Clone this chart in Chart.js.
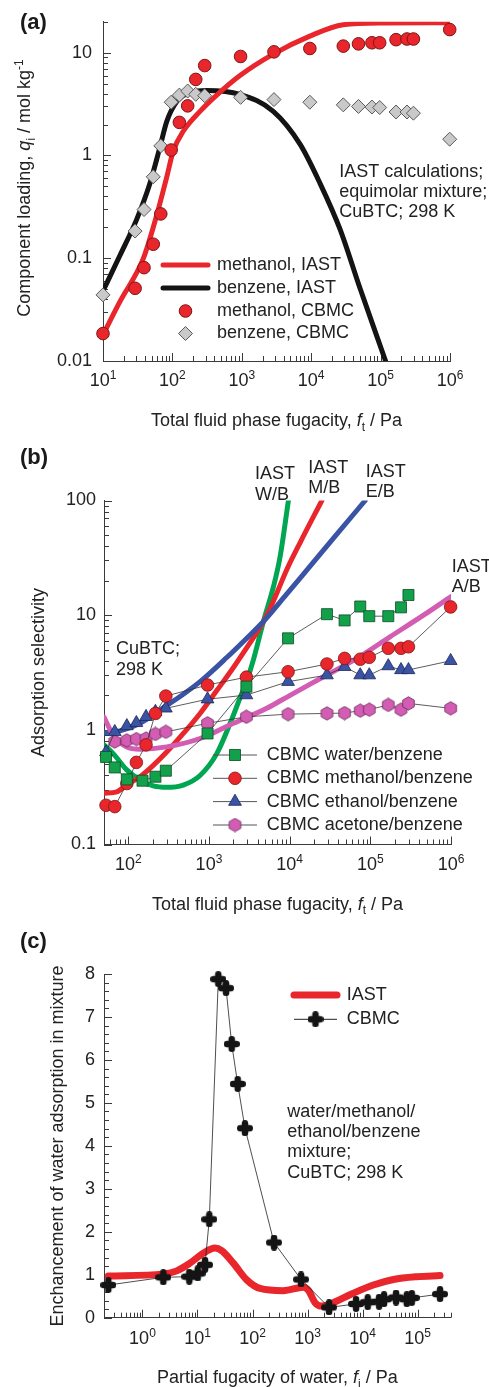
<!DOCTYPE html>
<html>
<head>
<meta charset="utf-8">
<script src="https://cdn.jsdelivr.net/npm/chart.js@4.4.1/dist/chart.umd.min.js"></script>
<style>
  body { margin: 0; background: #fff; width: 489px; height: 1387px; position: relative; overflow: hidden; }
  canvas { position: absolute; left: 0; }
  #chart-a { top: 0; }
  #chart-b { top: 440px; }
  #chart-c { top: 920px; }
</style>
</head>
<body>
<canvas id="chart-a" width="489" height="440"></canvas>
<canvas id="chart-b" width="489" height="480"></canvas>
<canvas id="chart-c" width="489" height="467"></canvas>
<script>
const FONT = '"Liberation Sans", Arial, Helvetica, sans-serif'
const INK = '#222'
const AXIS = '#3a3a3a'
const RED = '#e8262b'
const BLACK = '#141414'
const GREEN = '#00a651'
const BLUE = '#3a53a4'
const PINK = '#d25db2'

// (a) methanol/benzene component loadings, mol/kg
const fugA = [10, 29, 39, 53, 68, 96, 126, 166, 217, 292, 960, 2910, 9560, 29000, 48000, 75000, 97000, 167000, 240000, 297000, 990000]
const methanolCbmcA = [0.0185, 0.051, 0.081, 0.137, 0.27, 1.13, 2.1, 3.04, 5.5, 7.5, 9.2, 10.2, 11.0, 11.6, 12.2, 12.5, 12.5, 13.4, 13.6, 13.6, 16.8]
const benzeneCbmcA = [0.044, 0.184, 0.298, 0.62, 1.24, 3.3, 3.87, 4.24, 3.94, 3.82, 3.68, 3.5, 3.3, 3.11, 3.0, 2.96, 2.93, 2.65, 2.65, 2.58, 1.44]
const methanolIastF = [10, 17.6, 38, 59, 83, 103, 144, 250, 435, 942, 2840, 9560, 28800, 110000, 1e6]
const methanolIastQ = [0.018, 0.038, 0.099, 0.258, 0.62, 1.11, 1.73, 2.69, 3.87, 6.0, 9.7, 14.5, 18.7, 19.5, 19.6]
const benzeneIastF = [10, 17.6, 30.6, 47.5, 66, 83, 115, 180, 312, 942, 2840, 6900, 13400, 26000, 50500, 118000]
const benzeneIastQ = [0.048, 0.107, 0.239, 0.536, 1.2, 2.15, 3.34, 4.11, 4.3, 3.93, 2.69, 1.29, 0.536, 0.192, 0.051, 0.01]
const xTicksA = [1e1, 1e2, 1e3, 1e4, 1e5, 1e6]
const yTicksA = [0.01, 0.1, 1, 10]

// (b) adsorption selectivities relative to benzene
const iastWaterF = [50, 65, 95, 140, 204, 300, 480, 776, 1250, 1830, 2430, 2930, 3560, 4730, 6300, 7620, 9660]
const iastWaterS = [0.74, 0.62, 0.45, 0.365, 0.324, 0.315, 0.33, 0.40, 0.62, 1.14, 1.9, 2.65, 4.1, 8.8, 17.7, 32.4, 100]
const iastMethanolF = [50, 72, 95, 140, 204, 299, 481, 776, 1250, 2010, 2944, 4730, 6300, 9230, 13500, 25100]
const iastMethanolS = [0.28, 0.288, 0.33, 0.39, 0.49, 0.64, 0.93, 1.39, 2.2, 3.5, 5.2, 8.8, 13.3, 25, 43, 100]
const iastEthanolF = [50, 79, 140, 247, 438, 776, 1660, 2940, 4730, 9230, 13500, 35000, 86500]
const iastEthanolS = [0.94, 0.98, 1.14, 1.49, 1.95, 2.63, 4.27, 6.3, 8.8, 15.3, 21, 47, 100]
const iastAcetoneF = [50, 65, 95, 140, 300, 776, 2010, 5200, 10100, 26300, 68000, 177000, 457000, 1e6]
const iastAcetoneS = [1.29, 0.9, 0.71, 0.676, 0.71, 0.84, 1.14, 1.54, 2.0, 2.9, 4.2, 6.5, 10, 14.5]
const cbmcWaterF = [53, 68, 96, 150, 217, 292, 960, 2910, 9560, 29000, 48000, 75000, 97000, 167000, 240000, 297000]
const cbmcWaterS = [0.58, 0.47, 0.37, 0.36, 0.39, 0.44, 0.93, 2.38, 6.28, 10.2, 9.0, 11.9, 9.8, 9.8, 11.7, 15]
const cbmcMethanolF = [53, 68, 96, 126, 166, 217, 292, 960, 2910, 9560, 29000, 48000, 75000, 97000, 167000, 240000, 297000, 990000]
const cbmcMethanolS = [0.22, 0.214, 0.34, 0.52, 0.74, 1.39, 1.97, 2.46, 2.88, 3.21, 3.75, 4.2, 4.13, 4.29, 5.14, 5.14, 5.3, 11.8]
const cbmcEthanolF = [53, 68, 96, 126, 166, 217, 292, 960, 2910, 9560, 29000, 48000, 75000, 97000, 167000, 240000, 297000, 990000]
const cbmcEthanolS = [0.64, 0.96, 1.08, 1.15, 1.3, 1.44, 1.54, 1.85, 2.01, 2.63, 3.0, 3.55, 3.0, 3.0, 3.6, 3.33, 3.33, 4.0]
const cbmcAcetoneF = [68, 96, 126, 166, 217, 292, 960, 2910, 9560, 29000, 48000, 75000, 97000, 167000, 240000, 297000, 990000]
const cbmcAcetoneS = [0.79, 0.81, 0.83, 0.84, 0.92, 0.96, 1.14, 1.3, 1.37, 1.39, 1.40, 1.47, 1.5, 1.65, 1.5, 1.7, 1.54]
const xTicksB = [1e2, 1e3, 1e4, 1e5, 1e6]
const yTicksB = [0.1, 1, 10, 100]

// (c) enhancement of water adsorption in the quaternary mixture
const cbmcEnhF = [0.239, 2.39, 7.1, 10.1, 13.7, 16.4, 23.9, 33, 41.9, 53.8, 73, 246, 762, 2460, 7620, 12400, 20000, 24600, 40600, 63600, 78400, 256000]
const cbmcEnh = [0.76, 0.94, 0.955, 1.03, 1.23, 2.29, 7.88, 7.67, 6.37, 5.44, 4.41, 1.75, 0.89, 0.24, 0.32, 0.36, 0.37, 0.43, 0.47, 0.43, 0.46, 0.55]
const iastEnhF = [0.24, 2.39, 4.2, 7.3, 12.7, 20.8, 27.5, 44.8, 78.5, 137, 363, 840, 1035, 1370, 1810, 2570, 6800, 15700, 36300, 96600, 256000]
const iastEnh = [0.97, 1.02, 1.09, 1.27, 1.5, 1.62, 1.56, 1.27, 0.88, 0.68, 0.63, 0.71, 0.64, 0.35, 0.27, 0.32, 0.57, 0.76, 0.89, 0.955, 0.98]
const xTicksC = [1e0, 1e1, 1e2, 1e3, 1e4, 1e5]
const yTicksC = [0, 1, 2, 3, 4, 5, 6, 7, 8]

const pts = (xs, ys) => xs.map((x, i) => ({ x, y: ys[i] }))

// ---------- marker images ----------
function hexagonMarker(size, fill, stroke) {
  const c = document.createElement('canvas')
  c.width = c.height = size
  const g = c.getContext('2d')
  const m = size / 2, r = size / 2 - 0.8
  g.beginPath()
  for (let k = 0; k < 6; k++) {
    const a = -Math.PI / 2 + k * Math.PI / 3
    g.lineTo(m + r * Math.cos(a), m + r * Math.sin(a))
  }
  g.closePath()
  g.fillStyle = fill
  g.fill()
  g.strokeStyle = stroke
  g.lineWidth = 0.8
  g.stroke()
  return c
}

function plusMarker(size, arm, fill) {
  const c = document.createElement('canvas')
  c.width = c.height = size
  const g = c.getContext('2d')
  const m = size / 2, half = (size - arm) / 2
  g.strokeStyle = fill
  g.lineWidth = arm
  g.lineCap = 'round'
  g.beginPath()
  g.moveTo(m, m - half); g.lineTo(m, m + half)
  g.moveTo(m - half, m); g.lineTo(m + half, m)
  g.stroke()
  return c
}

const HEX = hexagonMarker(15, PINK, '#6b2a5c')
const PLUS = plusMarker(16, 6.5, BLACK)

// ---------- drawing helpers ----------
function drawRich(ctx, parts, x, y, size, align = 'center', rotate = false) {
  const items = parts.map(p => (typeof p === 'string' ? { t: p } : { ...p }))
  const fontOf = p => `${p.italic ? 'italic ' : ''}${p.sub || p.sup ? Math.round(size * 0.66) : size}px ${FONT}`
  ctx.save()
  ctx.translate(x, y)
  if (rotate) ctx.rotate(-Math.PI / 2)
  let w = 0
  items.forEach(p => { ctx.font = fontOf(p); p.w = ctx.measureText(p.t).width; w += p.w })
  let cx = align === 'center' ? -w / 2 : 0
  ctx.fillStyle = INK
  ctx.textBaseline = 'alphabetic'
  ctx.textAlign = 'left'
  const base = size * 0.36
  items.forEach(p => {
    ctx.font = fontOf(p)
    const dy = p.sub ? size * 0.26 : p.sup ? -size * 0.4 : 0
    ctx.fillText(p.t, cx, base + dy)
    cx += p.w
  })
  ctx.restore()
}

function drawLines(ctx, lines, x, ys, size = 18) {
  ctx.save()
  ctx.font = `${size}px ${FONT}`
  ctx.fillStyle = INK
  ctx.textAlign = 'left'
  ctx.textBaseline = 'middle'
  lines.forEach((t, i) => ctx.fillText(t, x, ys[i]))
  ctx.restore()
}

function drawPanelLetter(ctx, t, x, y) {
  ctx.save()
  ctx.font = `bold 22px ${FONT}`
  ctx.fillStyle = '#1a1a1a'
  ctx.textAlign = 'left'
  ctx.textBaseline = 'middle'
  ctx.fillText(t, x, y)
  ctx.restore()
}

function drawMarker(ctx, style, r, x, y) {
  if (typeof style !== 'string') {
    ctx.drawImage(style, x - style.width / 2, y - style.height / 2)
    return
  }
  ctx.beginPath()
  if (style === 'circle') {
    ctx.arc(x, y, r, 0, Math.PI * 2)
  } else if (style === 'rect') {
    const s = r * Math.SQRT1_2
    ctx.rect(x - s, y - s, 2 * s, 2 * s)
  } else if (style === 'rectRot') {
    ctx.moveTo(x - r, y); ctx.lineTo(x, y - r); ctx.lineTo(x + r, y); ctx.lineTo(x, y + r)
    ctx.closePath()
  } else if (style === 'triangle') {
    for (let k = 0; k < 3; k++) {
      const a = k * 2 * Math.PI / 3
      ctx.lineTo(x + Math.sin(a) * r, y - Math.cos(a) * r)
    }
    ctx.closePath()
  }
  ctx.fill()
  ctx.stroke()
}

// legend rows drawn from the datasets' own styles
function drawLegend(chart, rows, x0, x1, tx) {
  const ctx = chart.ctx
  rows.forEach(({ ds, y, text, link }) => {
    const d = chart.data.datasets[ds]
    ctx.save()
    if (d.pointRadius === 0) {
      ctx.strokeStyle = d.borderColor
      ctx.lineWidth = d.borderWidth
      ctx.lineCap = 'round'
      ctx.beginPath(); ctx.moveTo(x0, y); ctx.lineTo(x1, y); ctx.stroke()
    } else {
      if (link) {
        ctx.strokeStyle = link
        ctx.lineWidth = 1
        ctx.beginPath(); ctx.moveTo(x0, y); ctx.lineTo(x1, y); ctx.stroke()
      }
      ctx.fillStyle = d.pointBackgroundColor
      ctx.strokeStyle = d.pointBorderColor
      ctx.lineWidth = d.pointBorderWidth
      drawMarker(ctx, d.pointStyle, d.pointRadius, (x0 + x1) / 2, y)
    }
    ctx.restore()
    drawLines(ctx, [text], tx, [y])
  })
}

function logMinors(min, max) {
  const out = []
  for (let e = Math.floor(Math.log10(min)); e <= Math.ceil(Math.log10(max)); e++) {
    for (let k = 2; k <= 9; k++) {
      const v = k * Math.pow(10, e)
      if (v >= min * 0.999 && v <= max * 1.001) out.push(v)
    }
  }
  return out
}

// inward tick marks on the left and bottom axes, plus power-of-ten labels under x
function axisPlugin(id, cfg) {
  return {
    id,
    beforeDatasetsDraw(chart) {
      const { ctx, chartArea: a, scales: { x, y } } = chart
      ctx.save()
      ctx.strokeStyle = AXIS
      ctx.lineWidth = 1
      ctx.beginPath()
      const xs = [[cfg.xMajor, 8], [cfg.xMinor, 5]]
      xs.forEach(([vals, len]) => vals.forEach(v => {
        const px = Math.round(x.getPixelForValue(v)) + 0.5
        ctx.moveTo(px, a.bottom); ctx.lineTo(px, a.bottom - len)
      }))
      const ys = [[cfg.yMajor, 8], [cfg.yMinor, 5]]
      ys.forEach(([vals, len]) => vals.forEach(v => {
        const py = Math.round(y.getPixelForValue(v)) + 0.5
        ctx.moveTo(a.left, py); ctx.lineTo(a.left + len, py)
      }))
      ctx.stroke()
      ctx.restore()
    },
    afterDraw(chart) {
      const { ctx, chartArea: a, scales: { x } } = chart
      cfg.xMajor.forEach(v => {
        const e = String(Math.round(Math.log10(v)))
        drawRich(ctx, ['10', { t: e, sup: true }], x.getPixelForValue(v), a.bottom + cfg.labelGap, 18)
      })
      cfg.decorate(chart)
    },
  }
}

function frameOptions({ box, x, y }) {
  return {
    responsive: false,
    animation: false,
    events: [],
    layout: { padding: { top: box.top, right: box.width - box.right, left: 0, bottom: 0 } },
    plugins: { legend: { display: false }, tooltip: { enabled: false } },
    scales: {
      x: {
        type: 'logarithmic',
        min: x.min,
        max: x.max,
        grid: { display: false, drawTicks: false },
        border: { color: AXIS, width: 1 },
        ticks: { display: false },
        afterBuildTicks: s => { s.ticks = x.ticks.map(v => ({ value: v })) },
        afterFit: s => { s.height = box.height - box.bottom },
      },
      y: {
        type: y.type,
        min: y.min,
        max: y.max,
        grid: { display: false, drawTicks: false },
        border: { color: AXIS, width: 1 },
        ticks: {
          color: INK,
          padding: y.pad,
          font: { family: FONT, size: 18 },
          callback: v => String(v),
        },
        afterBuildTicks: s => { s.ticks = y.ticks.map(v => ({ value: v })) },
        afterFit: s => { s.width = box.left },
      },
    },
  }
}

// ---------- (a) component loadings ----------
new Chart(document.getElementById('chart-a'), {
  type: 'scatter',
  data: {
    datasets: [
      { data: pts(fugA, methanolCbmcA), pointStyle: 'circle', pointRadius: 6.3, pointBackgroundColor: RED, pointBorderColor: '#7d1616', pointBorderWidth: 1, clip: false },
      { data: pts(fugA, benzeneCbmcA), pointStyle: 'rectRot', pointRadius: 7, pointBackgroundColor: '#c9c9c9', pointBorderColor: '#5a5a5a', pointBorderWidth: 1, clip: false },
      { data: pts(methanolIastF, methanolIastQ), showLine: true, borderColor: RED, borderWidth: 5, borderCapStyle: 'round', pointRadius: 0, cubicInterpolationMode: 'monotone' },
      { data: pts(benzeneIastF, benzeneIastQ), showLine: true, borderColor: BLACK, borderWidth: 5, borderCapStyle: 'round', pointRadius: 0, cubicInterpolationMode: 'monotone' },
    ],
  },
  options: frameOptions({
    box: { width: 489, height: 440, left: 103, right: 450, top: 15.5, bottom: 361 },
    x: { min: 10, max: 1e6, ticks: xTicksA },
    y: { type: 'logarithmic', min: 0.01, max: 20, ticks: yTicksA, pad: 11 },
  }),
  plugins: [axisPlugin('axesA', {
    xMajor: xTicksA, xMinor: logMinors(10, 1e6),
    yMajor: yTicksA, yMinor: logMinors(0.01, 20),
    labelGap: 19,
    decorate(chart) {
      const ctx = chart.ctx
      drawPanelLetter(ctx, '(a)', 20, 23)
      drawRich(ctx, ['Component loading, ', { t: 'q', italic: true }, { t: 'i', sub: true }, ' / mol kg', { t: '-1', sup: true }], 24, 188, 18, 'center', true)
      drawRich(ctx, ['Total fluid phase fugacity, ', { t: 'f', italic: true }, { t: 't', sub: true }, ' / Pa'], 276.5, 420, 18)
      drawLines(ctx, ['IAST calculations;', 'equimolar mixture;', 'CuBTC; 298 K'], 339.3, [172, 192.3, 212.3])
      drawLegend(chart, [
        { ds: 2, y: 265, text: 'methanol, IAST' },
        { ds: 3, y: 288, text: 'benzene, IAST' },
        { ds: 0, y: 311, text: 'methanol, CBMC' },
        { ds: 1, y: 333.5, text: 'benzene, CBMC' },
      ], 163, 208, 217)
    },
  })],
})

// ---------- (b) adsorption selectivities ----------
const cbmcLine = { showLine: true, borderColor: '#333', borderWidth: 0.8, clip: false }
const iastLine = { showLine: true, borderWidth: 5, borderCapStyle: 'round', pointRadius: 0, cubicInterpolationMode: 'monotone' }

new Chart(document.getElementById('chart-b'), {
  type: 'scatter',
  data: {
    datasets: [
      { ...cbmcLine, data: pts(cbmcWaterF, cbmcWaterS), pointStyle: 'rect', pointRadius: 7.8, pointBackgroundColor: '#13a04a', pointBorderColor: '#0b4d22', pointBorderWidth: 0.8 },
      { ...cbmcLine, data: pts(cbmcMethanolF, cbmcMethanolS), pointStyle: 'circle', pointRadius: 6.3, pointBackgroundColor: RED, pointBorderColor: '#7d1616', pointBorderWidth: 0.8 },
      { ...cbmcLine, data: pts(cbmcEthanolF, cbmcEthanolS), pointStyle: 'triangle', pointRadius: 7.4, pointBackgroundColor: BLUE, pointBorderColor: '#1b2757', pointBorderWidth: 0.8 },
      { ...cbmcLine, data: pts(cbmcAcetoneF, cbmcAcetoneS), pointStyle: HEX, pointRadius: 7.5, pointBackgroundColor: PINK, pointBorderColor: '#6b2a5c', pointBorderWidth: 0.8 },
      { ...iastLine, data: pts(iastAcetoneF, iastAcetoneS), borderColor: PINK },
      { ...iastLine, data: pts(iastEthanolF, iastEthanolS), borderColor: BLUE },
      { ...iastLine, data: pts(iastMethanolF, iastMethanolS), borderColor: RED },
      { ...iastLine, data: pts(iastWaterF, iastWaterS), borderColor: GREEN },
    ],
  },
  options: frameOptions({
    box: { width: 489, height: 480, left: 104, right: 451, top: 60.5, bottom: 404.5 },
    x: { min: 50, max: 1e6, ticks: xTicksB },
    y: { type: 'logarithmic', min: 0.1, max: 100, ticks: yTicksB, pad: 8 },
  }),
  plugins: [axisPlugin('axesB', {
    xMajor: xTicksB, xMinor: logMinors(50, 1e6),
    yMajor: yTicksB, yMinor: logMinors(0.1, 100),
    labelGap: 19,
    decorate(chart) {
      const ctx = chart.ctx
      drawPanelLetter(ctx, '(b)', 20, 18)
      drawRich(ctx, ['Adsorption selectivity'], 37.5, 232.5, 18, 'center', true)
      drawRich(ctx, ['Total fluid phase fugacity, ', { t: 'f', italic: true }, { t: 't', sub: true }, ' / Pa'], 277.5, 463.3, 18)
      drawLines(ctx, ['IAST', 'W/B'], 255, [34.3, 55])
      drawLines(ctx, ['IAST', 'M/B'], 308.3, [28.3, 48.3])
      drawLines(ctx, ['IAST', 'E/B'], 365.7, [31.7, 51.7])
      drawLines(ctx, ['IAST', 'A/B'], 451.7, [126.7, 146.7])
      drawLines(ctx, ['CuBTC;', '298 K'], 116, [209.3, 230])
      drawLegend(chart, [
        { ds: 0, y: 315, text: 'CBMC water/benzene', link: '#555' },
        { ds: 1, y: 338.3, text: 'CBMC methanol/benzene', link: '#555' },
        { ds: 2, y: 361.6, text: 'CBMC ethanol/benzene', link: '#555' },
        { ds: 3, y: 385, text: 'CBMC acetone/benzene', link: '#555' },
      ], 213, 257, 266.7)
    },
  })],
})

// ---------- (c) water enhancement factor ----------
const linMinorsC = yTicksC.slice(0, -1).flatMap(v => [0.2, 0.4, 0.6, 0.8].map(d => v + d))

new Chart(document.getElementById('chart-c'), {
  type: 'scatter',
  data: {
    datasets: [
      { data: pts(cbmcEnhF, cbmcEnh), showLine: true, borderColor: '#222', borderWidth: 0.8, pointStyle: PLUS, pointRadius: 8, pointBackgroundColor: BLACK, pointBorderColor: BLACK, pointBorderWidth: 0, clip: false },
      { data: pts(iastEnhF, iastEnh), showLine: true, borderColor: RED, borderWidth: 7, borderCapStyle: 'round', pointRadius: 0, cubicInterpolationMode: 'monotone' },
    ],
  },
  options: frameOptions({
    box: { width: 489, height: 467, left: 104, right: 450.7, top: 54, bottom: 397.7 },
    x: { min: 0.2, max: 4e5, ticks: xTicksC },
    y: { type: 'linear', min: 0, max: 8, ticks: yTicksC, pad: 9 },
  }),
  plugins: [axisPlugin('axesC', {
    xMajor: xTicksC, xMinor: logMinors(0.2, 4e5),
    yMajor: yTicksC, yMinor: linMinorsC,
    labelGap: 20,
    decorate(chart) {
      const ctx = chart.ctx
      drawPanelLetter(ctx, '(c)', 20, 21.7)
      drawRich(ctx, ['Enchancement of water adsorption in mixture'], 56.5, 226, 18, 'center', true)
      drawRich(ctx, ['Partial fugacity of water, ', { t: 'f', italic: true }, { t: 'i', sub: true }, ' / Pa'], 277.4, 456.7, 18)
      drawLines(ctx, ['water/methanol/', 'ethanol/benzene', 'mixture;', 'CuBTC; 298 K'], 287.3, [191.7, 211.7, 231.7, 252.7])
      drawLegend(chart, [
        { ds: 1, y: 75, text: 'IAST' },
        { ds: 0, y: 99.3, text: 'CBMC', link: '#222' },
      ], 294, 337, 346.7)
    },
  })],
})
</script>
</body>
</html>
